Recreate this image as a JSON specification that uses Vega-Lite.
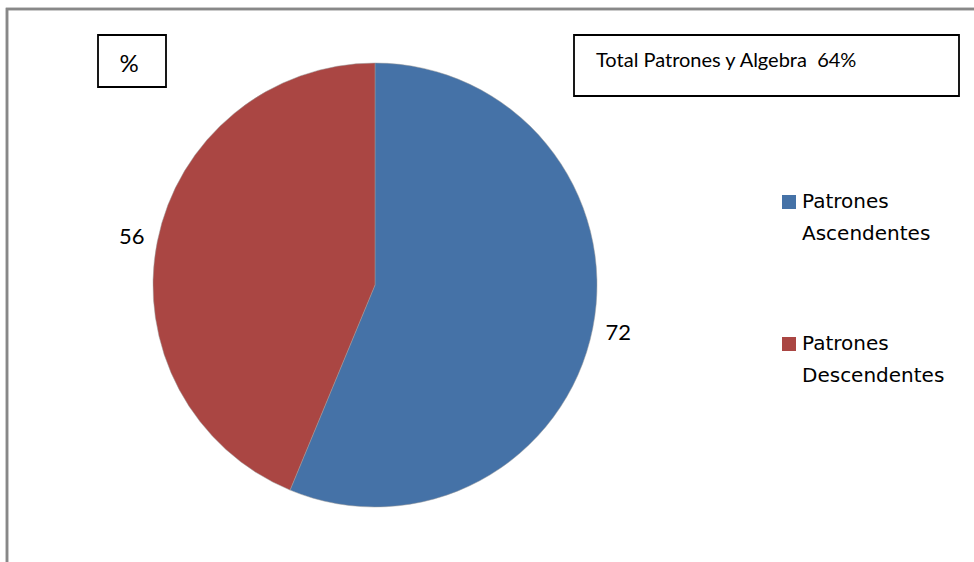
{
  "$schema": "https://vega.github.io/schema/vega-lite/v6.json",
  "width": 980,
  "height": 570,
  "autosize": "none",
  "padding": {"left": 7, "top": 9, "right": 0, "bottom": 0},
  "background": "white",
  "view": {"stroke": "#888888", "strokeWidth": 2.5},
  "config": {
    "view": {"stroke": "#888888", "strokeWidth": 2.5},
    "font": "Lato",
    "style": {"guide-label": {"lineHeight": 32}}
  },
  "data": {
    "values": [
      {"serie": "Patrones Ascendentes", "valor": 72},
      {"serie": "Patrones Descendentes", "valor": 56}
    ]
  },
  "layer": [
    {
      "mark": {"type": "arc", "x": 368, "y": 276, "outerRadius": 222, "stroke": "#9a9a9a", "strokeWidth": 0.5},
      "encoding": {
        "theta": {"field": "valor", "type": "quantitative", "stack": true},
        "order": {"field": "valor", "type": "quantitative", "sort": "descending"},
        "color": {
          "field": "serie",
          "type": "nominal",
          "scale": {"domain": ["Patrones Ascendentes", "Patrones Descendentes"], "range": ["#4572A7", "#AA4643"]},
          "legend": {
            "orient": "none",
            "legendX": 772,
            "legendY": 183,
            "title": null,
            "symbolType": "square",
            "symbolSize": 196,
            "symbolStrokeWidth": 0,
            "symbolOpacity": 1,
            "labelFontSize": 20,
            "labelFont": "DejaVu Sans",
            "labelColor": "#000000",
            "labelExpr": "split(datum.label, ' ')",
            "labelOffset": 3,
            "labelLimit": 300,
            "rowPadding": 90,
            "padding": 0
          }
        }
      }
    },
    {
      "mark": {"type": "text", "x": 368, "y": 276, "radius": 248, "fontSize": 22, "color": "#000000"},
      "encoding": {
        "theta": {"field": "valor", "type": "quantitative", "stack": true},
        "order": {"field": "valor", "type": "quantitative", "sort": "descending"},
        "text": {"field": "valor", "type": "quantitative"}
      }
    },
    {
      "data": {"values": [{"etiqueta": "%"}]},
      "layer": [
        {
          "mark": {"type": "rect", "x": 0, "y": 0, "x2": 985, "y2": 575, "fill": null, "stroke": "#888888", "strokeWidth": 2.5},
          "encoding": {}
        },
        {
          "mark": {"type": "rect", "x": 91, "y": 26, "x2": 159, "y2": 78, "fill": null, "stroke": "#000000", "strokeWidth": 1.8},
          "encoding": {}
        },
        {
          "mark": {"type": "text", "x": 122, "y": 56, "fontSize": 24, "align": "center", "baseline": "middle", "color": "#000000"},
          "encoding": {"text": {"field": "etiqueta", "type": "nominal"}}
        }
      ]
    },
    {
      "data": {"values": [{"etiqueta": "Total Patrones y Algebra\u00a0 64%"}]},
      "layer": [
        {
          "mark": {"type": "rect", "x": 567, "y": 26, "x2": 952, "y2": 87, "fill": null, "stroke": "#000000", "strokeWidth": 1.8},
          "encoding": {}
        },
        {
          "mark": {"type": "text", "x": 589, "y": 58, "fontSize": 20, "align": "left", "baseline": "alphabetic", "color": "#000000"},
          "encoding": {"text": {"field": "etiqueta", "type": "nominal"}}
        }
      ]
    }
  ]
}
